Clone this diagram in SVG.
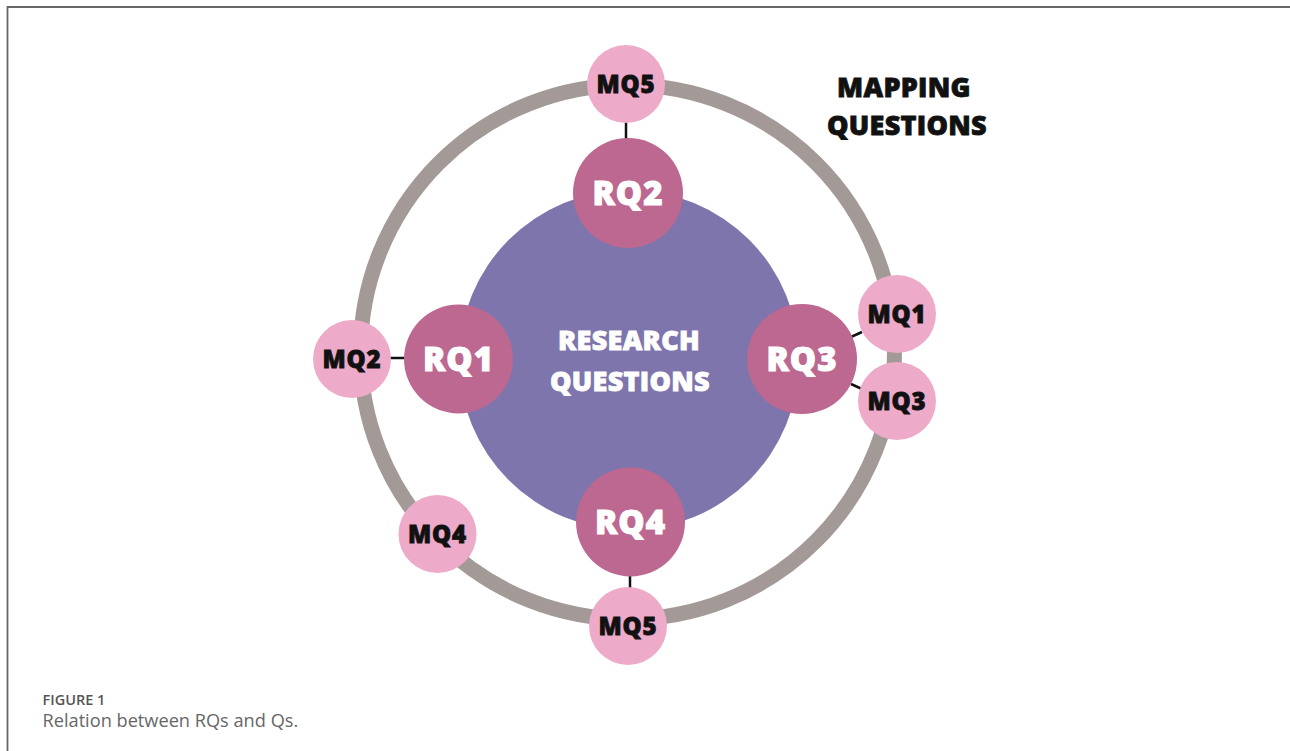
<svg xmlns="http://www.w3.org/2000/svg" width="1290" height="751" viewBox="0 0 1290 751">
<style>
.mq{fill:#eeaac9}
.rq{fill:#bc6890}
.mqt{font-family:"Open Sans","Liberation Sans",sans-serif;font-weight:800;font-size:24px;letter-spacing:0.8px;fill:#111;stroke:#111;stroke-width:0.8;text-anchor:middle}
.rqt{font-family:"Open Sans","Liberation Sans",sans-serif;font-weight:800;font-size:33px;letter-spacing:1px;fill:#fff;stroke:#fff;stroke-width:1;text-anchor:middle}
.big{font-family:"Open Sans","Liberation Sans",sans-serif;font-weight:800;font-size:27px;letter-spacing:0.3px;stroke-width:0.8;text-anchor:middle}
.con{stroke:#111;stroke-width:2.5;fill:none}
</style>
<rect width="1290" height="751" fill="#fff"/>
<path d="M7.5 751 V7 H1290" fill="none" stroke="#666" stroke-width="1.8"/>
<g id="ring"><circle cx="627.5" cy="352" r="267" fill="none" stroke="#a39a98" stroke-width="15"/></g>
<g id="research-questions">
<circle cx="629" cy="360" r="170" fill="#7f75ad"/>
<text class="big" x="629" y="350" fill="#fff" stroke="#fff">RESEARCH</text>
<text class="big" x="630" y="391" fill="#fff" stroke="#fff">QUESTIONS</text>
</g>
<g id="mapping-questions-label">
<text class="big" x="904" y="97" fill="#111" stroke="#111">MAPPING</text>
<text class="big" x="907" y="135" fill="#111" stroke="#111">QUESTIONS</text>
</g>
<g id="connectors">
<line class="con" x1="626" y1="122" x2="626" y2="139"/>
<line class="con" x1="390" y1="358" x2="405" y2="358"/>
<line class="con" x1="851" y1="337" x2="862" y2="332"/>
<line class="con" x1="851" y1="384" x2="862" y2="389"/>
<line class="con" x1="630" y1="576" x2="630" y2="588"/>
</g>
<g id="RQ2"><circle class="rq" cx="628" cy="193" r="55"/><text class="rqt" x="628" y="205">RQ2</text></g>
<g id="RQ1"><circle class="rq" cx="458.5" cy="359" r="54.5"/><text class="rqt" x="458.5" y="371">RQ1</text></g>
<g id="RQ3"><circle class="rq" cx="802" cy="359" r="55"/><text class="rqt" x="802" y="371">RQ3</text></g>
<g id="RQ4"><circle class="rq" cx="630.5" cy="522" r="54.5"/><text class="rqt" x="630.5" y="534">RQ4</text></g>
<g id="MQ5-top"><circle class="mq" cx="626" cy="84" r="39"/><text class="mqt" x="626" y="92.5">MQ5</text></g>
<g id="MQ2"><circle class="mq" cx="352" cy="359" r="39"/><text class="mqt" x="352" y="367.5">MQ2</text></g>
<g id="MQ1"><circle class="mq" cx="897" cy="314" r="39"/><text class="mqt" x="897" y="322.5">MQ1</text></g>
<g id="MQ3"><circle class="mq" cx="897" cy="401" r="39"/><text class="mqt" x="897" y="409.5">MQ3</text></g>
<g id="MQ4"><circle class="mq" cx="437.5" cy="534" r="39"/><text class="mqt" x="437.5" y="542.5">MQ4</text></g>
<g id="MQ5-bottom"><circle class="mq" cx="628" cy="626" r="39"/><text class="mqt" x="628" y="634.5">MQ5</text></g>
<g id="caption">
<text x="42.5" y="705" font-family="'Open Sans','Liberation Sans',sans-serif" font-weight="600" font-size="14.5px" fill="#555">FIGURE 1</text>
<text x="42.5" y="727" font-family="'Open Sans','Liberation Sans',sans-serif" font-weight="400" font-size="18.2px" fill="#666">Relation between RQs and Qs.</text>
</g>
</svg>
